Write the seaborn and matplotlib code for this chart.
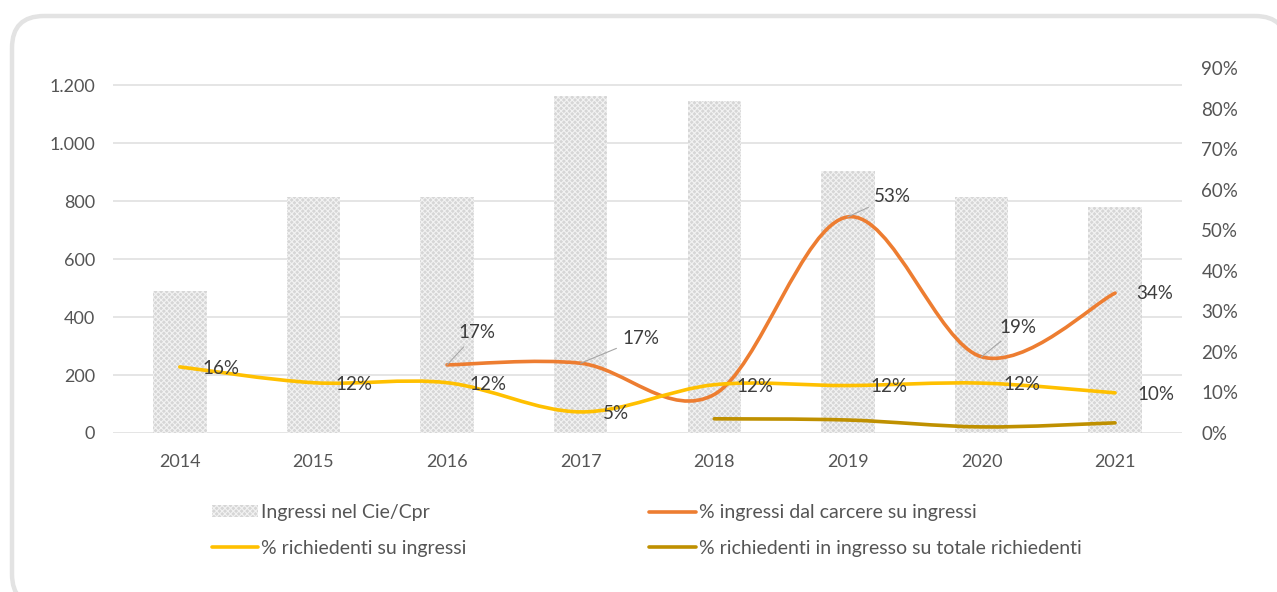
import numpy as np
import pandas as pd
import matplotlib
matplotlib.use("Agg")
import matplotlib.pyplot as plt
import seaborn as sns
from matplotlib.path import Path as MPath
from matplotlib.patches import PathPatch, FancyBboxPatch, Patch
from matplotlib.lines import Line2D

# DATA
years = ["2014", "2015", "2016", "2017", "2018", "2019", "2020", "2021"]
ingressi = [490, 814, 814, 1162, 1145, 903, 814, 779]
pct_richiedenti = [0.163, 0.124, 0.124, 0.052, 0.119, 0.117, 0.123, 0.099]
pct_carcere = [None, None, 0.168, 0.172, 0.095, 0.533, 0.188, 0.345]
pct_rich_tot = [None, None, None, None, 0.035, 0.032, 0.015, 0.025]

left_ticks = [0, 200, 400, 600, 800, 1000, 1200]
left_labels = ["0", "200", "400", "600", "800", "1.000", "1.200"]
right_ticks = [0.0, 0.1, 0.2, 0.3, 0.4, 0.5, 0.6, 0.7, 0.8, 0.9]

ORANGE = "#ED7D31"
YELLOW = "#FFC000"
GOLD = "#BF9000"
GREY_TXT = "#555555"
LABEL_TXT = "#3d3d3d"

sns.set_style("white")
plt.rcParams["font.family"] = ["Lato", "DejaVu Sans"]
plt.rcParams["hatch.linewidth"] = 0.8


def smooth_path(xs, ys):
    # Excel-like smoothed line: cubic Bezier segments, Catmull-Rom control points
    pts = np.array(list(zip(xs, ys)), dtype=float)
    n = len(pts)
    verts = [tuple(pts[0])]
    codes = [MPath.MOVETO]
    for i in range(n - 1):
        p0 = pts[i - 1] if i > 0 else pts[i]
        p1 = pts[i]
        p2 = pts[i + 1]
        p3 = pts[i + 2] if i + 2 < n else pts[i + 1]
        c1 = p1 + (p2 - p0) / 6.0
        c2 = p2 - (p3 - p1) / 6.0
        verts += [tuple(c1), tuple(c2), tuple(p2)]
        codes += [MPath.CURVE4] * 3
    return MPath(verts, codes)


W, H = 1277, 592
fig = plt.figure(figsize=(W / 100, H / 100), dpi=100)

# rounded card border, drawn in pixel units on a background axes
bg = fig.add_axes([0, 0, 1, 1], zorder=-5)
bg.set_xlim(0, W)
bg.set_ylim(H, 0)
bg.axis("off")
bg.add_patch(FancyBboxPatch((12, 16), 1275, 590,
                            boxstyle="round,pad=0,rounding_size=32",
                            facecolor="white", edgecolor="#e3e3e3", linewidth=3.2))

ax = fig.add_axes([0.0885, 0.2686, 0.837, 0.6164])
ax.patch.set_alpha(0)

df = pd.DataFrame({"anno": years, "ingressi": ingressi})
sns.barplot(data=df, x="anno", y="ingressi", ax=ax, width=0.4,
            color="#d6d6d6", saturation=1)
for bar in ax.patches:
    bar.set_hatch("xxxxxx")
    bar.set_edgecolor("#f2f2f2")
    bar.set_linewidth(0)

ax.set_ylim(0, 1258.6)
ax.set_xlim(-0.5, 7.5)
ax.set_yticks(left_ticks)
ax.set_yticklabels(left_labels)
ax.set_xlabel("")
ax.set_ylabel("")
ax.grid(axis="y", color="#e3e3e3", linewidth=1.3)
ax.set_axisbelow(True)
for s in ax.spines.values():
    s.set_visible(False)
ax.tick_params(axis="both", length=0, labelsize=13, labelcolor=GREY_TXT)
ax.tick_params(axis="y", pad=13)
ax.tick_params(axis="x", pad=15)

ax2 = ax.twinx()
ax2.set_ylim(0, 0.9)
ax2.set_yticks(right_ticks)
ax2.set_yticklabels([f"{int(round(t * 100))}%" for t in right_ticks])
ax2.tick_params(axis="y", length=0, labelsize=13.5, labelcolor=GREY_TXT, pad=14)
for s in ax2.spines.values():
    s.set_visible(False)
ax2.grid(False)

series = [
    (pct_carcere, ORANGE),
    (pct_richiedenti, YELLOW),
    (pct_rich_tot, GOLD),
]
for vals, col in series:
    xs = [i for i, v in enumerate(vals) if v is not None]
    ys = [v for v in vals if v is not None]
    patch = PathPatch(smooth_path(xs, ys), facecolor="none", edgecolor=col,
                      linewidth=2.6, capstyle="round", joinstyle="round",
                      transform=ax2.transData)
    ax2.add_patch(patch)

# data labels: yellow series, to the right of each point
for i, v in enumerate(pct_richiedenti):
    ax2.annotate(f"{v:.0%}", (i, v), xytext=(16, -1), textcoords="offset points",
                 ha="left", va="center", fontsize=13.5, color=LABEL_TXT)

# data labels: orange series, with leader lines where Excel moved them
orange_offsets = {2: (8, 23), 3: (30, 18), 5: (19, 15), 6: (13, 21), 7: (15, 0)}
for i, v in enumerate(pct_carcere):
    if v is None or i not in orange_offsets:
        continue
    dx, dy = orange_offsets[i]
    leader = dict(arrowstyle="-", color="#a6a6a6", lw=0.8,
                  shrinkA=2, shrinkB=0) if i != 7 else None
    ax2.annotate(f"{v:.0%}", (i, v), xytext=(dx, dy), textcoords="offset points",
                 ha="left", va="center", fontsize=13.5, color=LABEL_TXT,
                 arrowprops=leader)

handles = [
    Patch(facecolor="#d6d6d6", edgecolor="#f2f2f2", hatch="xxxxxx", linewidth=0),
    Line2D([], [], color=YELLOW, lw=2.6),
    Line2D([], [], color=ORANGE, lw=2.6),
    Line2D([], [], color=GOLD, lw=2.6),
]
labels = [
    "Ingressi nel Cie/Cpr",
    "% richiedenti su ingressi",
    "% ingressi dal carcere su ingressi",
    "% richiedenti in ingresso su totale richiedenti",
]
fig.legend(handles, labels, ncol=2, loc="upper left",
           bbox_to_anchor=(0.152, 0.178), frameon=False, fontsize=14,
           labelcolor=GREY_TXT, handlelength=2.4, handleheight=0.6,
           handletextpad=0.15, columnspacing=9.4, labelspacing=0.95)

fig.savefig("out.png", dpi=100)
